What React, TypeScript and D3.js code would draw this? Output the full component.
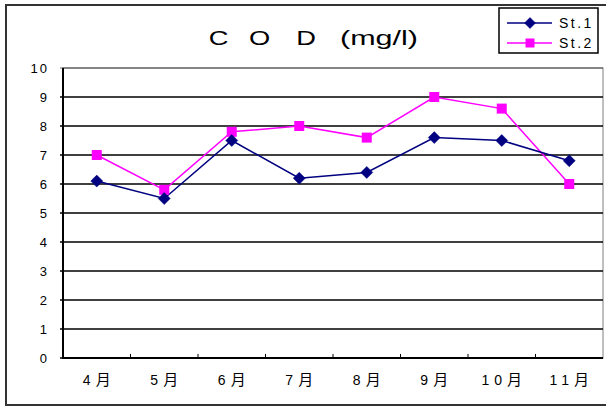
import React from "react";
import * as d3 from "d3";

const months = ["4月", "5月", "6月", "7月", "8月", "9月", "10月", "11月"];
const st1 = [6.1, 5.5, 7.5, 6.2, 6.4, 7.6, 7.5, 6.8];
const st2 = [7.0, 5.8, 7.8, 8.0, 7.6, 9.0, 8.6, 6.0];
const yTicks = [0, 1, 2, 3, 4, 5, 6, 7, 8, 9, 10];
const seriesNames = ["St.1", "St.2"];
const titleLetters = ["C", "O", "D"];
const titleUnit = "(mg/l)";

const W = 606;
const H = 407;
const plot = { left: 63, right: 603, top: 68, bottom: 358 };
const FONT = "'Liberation Sans', Arial, 'Noto Sans CJK JP', sans-serif";
const CJK = "'Noto Sans CJK JP', sans-serif";
const NAVY = "#000080";
const MAGENTA = "#FF00FF";

function Diamond({ x, y, r = 6, color }: { x: number; y: number; r?: number; color: string }) {
  return <path d={`M${x},${y - r}L${x + r},${y}L${x},${y + r}L${x - r},${y}Z`} fill={color} stroke={color} strokeWidth={0.5} />;
}

function Square({ x, y, s = 10, color }: { x: number; y: number; s?: number; color: string }) {
  return <rect x={x - s / 2} y={y - s / 2} width={s} height={s} fill={color} />;
}

export default function App() {
  const x = d3.scaleBand<string>().domain(months).range([plot.left, plot.right]);
  const y = d3.scaleLinear().domain([0, 10]).range([plot.bottom, plot.top]);
  const cx = (m: string) => (x(m) as number) + x.bandwidth() / 2;

  const line = d3
    .line<number>()
    .x((_, i) => cx(months[i]))
    .y((d) => y(d));

  // wide, evenly spaced title letters
  const titleX = [218.5, 259.5, 306];

  return (
    <svg width={W} height={H} style={{ position: "absolute", left: 0, top: 0, background: "#fff" }}>
      {/* outer frame */}
      <rect x={6} y={5} width={W + 4} height={400} fill="#fff" stroke="#333" strokeWidth={2} />

      {/* title */}
      {titleLetters.map((c, i) => (
        <text
          key={c}
          transform={`translate(${titleX[i]},45) scale(1.3,1)`}
          textAnchor="middle"
          fontFamily={FONT}
          fontSize={21}
          fill="#000"
        >
          {c}
        </text>
      ))}
      <text x={340} y={45} fontFamily={FONT} fontSize={21} textLength={78} lengthAdjust="spacingAndGlyphs" fill="#000">
        {titleUnit}
      </text>

      {/* plot frame */}
      <rect x={plot.left} y={plot.top} width={plot.right - plot.left} height={plot.bottom - plot.top} fill="#fff" stroke="#808080" strokeWidth={1} />

      {/* gridlines */}
      {yTicks.map((t) => (
        <line key={t} x1={plot.left - 3} x2={plot.right} y1={Math.round(y(t))} y2={Math.round(y(t))} stroke="#000" strokeWidth={t === 10 ? 1 : 1.5} strokeOpacity={t === 10 ? 0.6 : 1} />
      ))}

      {/* y axis */}
      <line x1={plot.left} x2={plot.left} y1={plot.top} y2={plot.bottom + 1} stroke="#000" strokeWidth={2} />
      {/* x axis */}
      <line x1={plot.left - 1} x2={plot.right} y1={plot.bottom} y2={plot.bottom} stroke="#000" strokeWidth={2} />
      {months.slice(1).map((m) => (
        <line key={m} x1={x(m)} x2={x(m)} y1={plot.bottom - 4} y2={plot.bottom} stroke="#000" strokeWidth={1} />
      ))}

      {/* y tick labels */}
      {yTicks.map((t) => (
        <text key={t} x={49} y={y(t) + 5} textAnchor="end" fontFamily={FONT} fontSize={13} letterSpacing={2} fill="#000">
          {t}
        </text>
      ))}

      {/* x tick labels: digits + 月 */}
      {months.map((m) => {
        const num = m.replace("月", "");
        return (
          <text key={m} x={cx(m) + 2.5} y={385} textAnchor="middle" fontFamily={FONT} fontSize={14} letterSpacing={5} fill="#000">
            {num}
            <tspan fontFamily={CJK} fontSize={15}>月</tspan>
          </text>
        );
      })}

      {/* series */}
      <path d={line(st2) as string} fill="none" stroke={MAGENTA} strokeWidth={1.5} />
      <path d={line(st1) as string} fill="none" stroke={NAVY} strokeWidth={1.5} />
      {st2.map((v, i) => (
        <Square key={`s2-${i}`} x={cx(months[i])} y={y(v)} color={MAGENTA} />
      ))}
      {st1.map((v, i) => (
        <Diamond key={`s1-${i}`} x={cx(months[i])} y={y(v)} color={NAVY} />
      ))}

      {/* legend */}
      <rect x={499} y={8} width={99} height={45} fill="#fff" stroke="#000" strokeWidth={1.5} />
      <line x1={507} x2={552} y1={23} y2={23} stroke={NAVY} strokeWidth={1.5} />
      <Diamond x={530} y={23} r={5.5} color={NAVY} />
      <text x={559} y={28} fontFamily={FONT} fontSize={14} letterSpacing={2.5} fill="#000">{seriesNames[0]}</text>
      <line x1={507} x2={552} y1={43} y2={43} stroke={MAGENTA} strokeWidth={1.5} />
      <Square x={530} y={43} s={9} color={MAGENTA} />
      <text x={559} y={48} fontFamily={FONT} fontSize={14} letterSpacing={2.5} fill="#000">{seriesNames[1]}</text>
    </svg>
  );
}
